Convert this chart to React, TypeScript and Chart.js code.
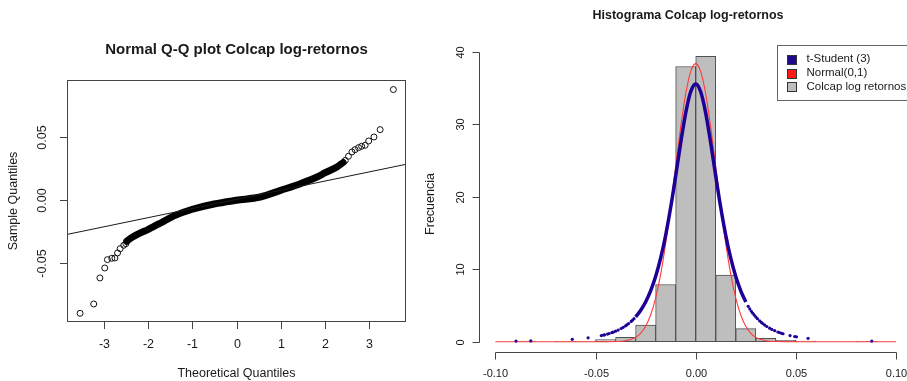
import React, { useEffect, useRef } from "react";
import { Chart, registerables } from "chart.js";

Chart.register(...registerables);

// ---------- Q-Q plot data ----------
const qqLineX = [-4, 4];
const qqLineY = [-0.0282, 0.0297];

const qqBandX = [-2.49, -2.4, -2.25, -2.0, -1.72, -1.42, -1.0, -0.51, 0, 0.54, 1.0, 1.45, 1.83, 2.0, 2.28, 2.42];
const qqBandY = [-0.0325, -0.03, -0.027, -0.023, -0.018, -0.0124, -0.0071, -0.0029, 0.0, 0.0026, 0.0079, 0.0132, 0.0185, 0.0217, 0.0265, 0.03];

const qqTailX = [-3.55, -3.24, -3.1, -2.99, -2.93, -2.83, -2.76, -2.7, -2.64, -2.56, -2.51, 2.47, 2.54, 2.62, 2.69, 2.77, 2.84, 2.92, 3.0, 3.12, 3.26, 3.56];
const qqTailY = [-0.0897, -0.0823, -0.0616, -0.0537, -0.0471, -0.046, -0.0458, -0.0418, -0.0384, -0.0357, -0.0344, 0.0317, 0.0349, 0.0384, 0.0402, 0.0418, 0.0429, 0.0437, 0.0471, 0.0503, 0.0561, 0.0879];

const qqXTicks = [-3, -2, -1, 0, 1, 2, 3];
const qqXTickLabels = ["-3", "-2", "-1", "0", "1", "2", "3"];
const qqYTicks = [-0.05, 0, 0.05];
const qqYTickLabels = ["-0.05", "0.00", "0.05"];

// ---------- Histogram data ----------
const histBinCenters = [-0.085, -0.075, -0.065, -0.055, -0.045, -0.035, -0.025, -0.015, -0.005, 0.005, 0.015, 0.025, 0.035, 0.045, 0.055, 0.065, 0.075, 0.085];
const histDensity = [0.08, 0, 0.04, 0.04, 0.28, 0.6, 2.3, 7.9, 38.0, 39.4, 9.2, 1.8, 0.45, 0.2, 0.08, 0, 0, 0.04];

const normalX = [-0.1, -0.06, -0.05, -0.045, -0.04, -0.035, -0.03, -0.0275, -0.025, -0.0225, -0.02, -0.0175, -0.015, -0.0125, -0.01, -0.0075, -0.005, -0.0025, 0, 0.0025, 0.005, 0.0075, 0.01, 0.0125, 0.015, 0.0175, 0.02, 0.0225, 0.025, 0.0275, 0.03, 0.035, 0.04, 0.045, 0.05, 0.06, 0.1];
const normalY = [0, 0, 0, 0.003, 0.02, 0.13, 0.6, 1.16, 2.13, 3.69, 6.03, 9.3, 13.55, 18.63, 24.17, 29.59, 34.2, 37.3, 38.4, 37.3, 34.2, 29.59, 24.17, 18.63, 13.55, 9.3, 6.03, 3.69, 2.13, 1.16, 0.6, 0.13, 0.02, 0.003, 0, 0, 0];

const tCoreX = [-0.03, -0.0275, -0.025, -0.0225, -0.02, -0.0175, -0.015, -0.0125, -0.01, -0.0075, -0.005, -0.0025, 0, 0.0025, 0.005, 0.0075, 0.01, 0.0125, 0.015, 0.0175, 0.02, 0.0225, 0.025];
const tCoreY = [3.42, 4.32, 5.49, 7.02, 9.0, 11.53, 14.7, 18.52, 22.88, 27.43, 31.57, 34.52, 35.6, 34.52, 31.57, 27.43, 22.88, 18.52, 14.7, 11.53, 9.0, 7.02, 5.49];

const tTailX = [-0.0897, -0.0823, -0.0616, -0.0537, -0.0471, -0.046, -0.0455, -0.044, -0.0432, -0.0418, -0.0412, -0.04, -0.0387, -0.0372, -0.0362, -0.035, -0.0344, -0.0335, -0.0322, -0.0315, -0.0308,
  0.0262, 0.027, 0.0278, 0.0285, 0.0292, 0.03, 0.0308, 0.0319, 0.0328, 0.0336, 0.0345, 0.0355, 0.0369, 0.038, 0.0394, 0.041, 0.0418, 0.0429, 0.0436, 0.0471, 0.0494, 0.0503, 0.0561, 0.0879];
const tTailY = [0.08, 0.11, 0.33, 0.54, 0.85, 0.92, 0.95, 1.06, 1.13, 1.26, 1.32, 1.45, 1.61, 1.82, 1.98, 2.19, 2.31, 2.5, 2.8, 2.98, 3.18,
  4.89, 4.53, 4.2, 3.93, 3.68, 3.42, 3.18, 2.88, 2.66, 2.48, 2.29, 2.1, 1.87, 1.7, 1.52, 1.34, 1.26, 1.155, 1.095, 0.85, 0.72, 0.68, 0.46, 0.09];

const histXTicks = [-0.1, -0.05, 0, 0.05, 0.1];
const histXTickLabels = ["-0.10", "-0.05", "0.00", "0.05", "0.10"];
const histYTicks = [0, 10, 20, 30, 40];
const histYTickLabels = ["0", "10", "20", "30", "40"];

const legendLabels = ["t-Student (3)", "Normal(0,1)", "Colcap log retornos"];
const legendColors = ["#1e0a8c", "#ff1a1a", "#bebebe"];

const FONT = '"Liberation Sans", Arial, Helvetica, sans-serif';
const BLUE = "#1e0096";
const RED = "#ff3a3a";
const TEXT = "#1a1a1a";
const AXIS = "#444444";

const pts = (xs: number[], ys: number[]) => xs.map((x, i) => ({ x, y: ys[i] }));

const qqDecor = {
  id: "qqDecor",
  afterDraw(chart: any) {
    const { ctx, chartArea, scales } = chart;
    const { left, top, right, bottom } = chartArea;
    const xs = scales.x;
    const ys = scales.y;
    ctx.save();
    ctx.strokeStyle = AXIS;
    ctx.lineWidth = 1;
    ctx.strokeRect(left + 0.5, top + 0.5, right - left - 1, bottom - top - 1);
    ctx.fillStyle = TEXT;
    ctx.font = `12.5px ${FONT}`;
    ctx.textAlign = "center";
    ctx.textBaseline = "middle";
    qqXTicks.forEach((t, i) => {
      const px = Math.round(xs.getPixelForValue(t)) + 0.5;
      ctx.beginPath();
      ctx.moveTo(px, bottom);
      ctx.lineTo(px, bottom + 7);
      ctx.stroke();
      ctx.fillText(qqXTickLabels[i], px, bottom + 23);
    });
    qqYTicks.forEach((t, i) => {
      const py = Math.round(ys.getPixelForValue(t)) + 0.5;
      ctx.beginPath();
      ctx.moveTo(left, py);
      ctx.lineTo(left - 7, py);
      ctx.stroke();
      ctx.save();
      ctx.translate(43, py);
      ctx.rotate(-Math.PI / 2);
      ctx.fillText(qqYTickLabels[i], 0, 0);
      ctx.restore();
    });
    ctx.fillText("Theoretical Quantiles", (left + right) / 2, 374);
    ctx.save();
    ctx.translate(14, (top + bottom) / 2);
    ctx.rotate(-Math.PI / 2);
    ctx.fillText("Sample Quantiles", 0, 0);
    ctx.restore();
    ctx.font = `bold 15px ${FONT}`;
    ctx.fillText("Normal Q-Q plot Colcap log-retornos", (left + right) / 2, 50);
    ctx.restore();
  },
};

const histDecor = {
  id: "histDecor",
  afterDraw(chart: any) {
    const { ctx, chartArea, scales } = chart;
    const { left, bottom } = chartArea;
    const xs = scales.x;
    const ys = scales.y;
    ctx.save();
    ctx.strokeStyle = AXIS;
    ctx.lineWidth = 1;
    ctx.fillStyle = TEXT;
    ctx.textAlign = "center";
    ctx.textBaseline = "middle";
    ctx.font = `11px ${FONT}`;
    // y axis
    const ax = Math.round(left) + 0.5;
    const y0 = Math.round(ys.getPixelForValue(histYTicks[0])) + 0.5;
    const y1 = Math.round(ys.getPixelForValue(histYTicks[histYTicks.length - 1])) + 0.5;
    ctx.beginPath();
    ctx.moveTo(ax, y0);
    ctx.lineTo(ax, y1);
    ctx.stroke();
    histYTicks.forEach((t, i) => {
      const py = Math.round(ys.getPixelForValue(t)) + 0.5;
      ctx.beginPath();
      ctx.moveTo(ax, py);
      ctx.lineTo(ax - 7, py);
      ctx.stroke();
      ctx.save();
      ctx.translate(ax - 19, py);
      ctx.rotate(-Math.PI / 2);
      ctx.fillText(histYTickLabels[i], 0, 0);
      ctx.restore();
    });
    // x axis
    const ay = Math.round(bottom) + 0.5;
    const x0 = Math.round(xs.getPixelForValue(histXTicks[0])) + 0.5;
    const x1 = Math.round(xs.getPixelForValue(histXTicks[histXTicks.length - 1])) + 0.5;
    ctx.beginPath();
    ctx.moveTo(x0, ay);
    ctx.lineTo(x1, ay);
    ctx.stroke();
    histXTicks.forEach((t, i) => {
      const px = Math.round(xs.getPixelForValue(t)) + 0.5;
      ctx.beginPath();
      ctx.moveTo(px, ay);
      ctx.lineTo(px, ay + 7);
      ctx.stroke();
      ctx.fillText(histXTickLabels[i], px, ay + 21);
    });
    // axis title
    ctx.font = `12.5px ${FONT}`;
    ctx.save();
    ctx.translate(11, 204);
    ctx.rotate(-Math.PI / 2);
    ctx.fillText("Frecuencia", 0, 0);
    ctx.restore();
    // main title
    ctx.font = `bold 12.5px ${FONT}`;
    ctx.fillText("Histograma Colcap log-retornos", 268, 16);
    // legend
    const lx = 357.5;
    const ly = 45.5;
    ctx.fillStyle = "#ffffff";
    ctx.fillRect(lx, ly, 200, 55);
    ctx.strokeStyle = "#666666";
    ctx.strokeRect(lx, ly, 200, 55);
    ctx.font = `11.5px ${FONT}`;
    ctx.textAlign = "left";
    legendLabels.forEach((lab, i) => {
      const cy = 59.3 + i * 13.7;
      ctx.fillStyle = legendColors[i];
      ctx.fillRect(367.5, Math.round(cy - 4.5) + 0.5, 9, 9);
      ctx.strokeStyle = "#333333";
      ctx.strokeRect(367.5, Math.round(cy - 4.5) + 0.5, 9, 9);
      ctx.fillStyle = TEXT;
      ctx.fillText(lab, 386.5, cy);
    });
    ctx.restore();
  },
};

export default function App() {
  const leftRef = useRef<HTMLCanvasElement | null>(null);
  const rightRef = useRef<HTMLCanvasElement | null>(null);

  useEffect(() => {
    const lc = leftRef.current;
    const rc = rightRef.current;
    if (!lc || !rc) return;

    const left = new Chart(lc, {
      type: "scatter",
      data: {
        datasets: [
          {
            data: pts(qqLineX, qqLineY),
            showLine: true,
            borderColor: "#1a1a1a",
            borderWidth: 1,
            pointRadius: 0,
            clip: 0,
          } as any,
          {
            data: pts(qqBandX, qqBandY),
            showLine: true,
            borderColor: "#000000",
            borderWidth: 7,
            pointRadius: 0,
            cubicInterpolationMode: "monotone",
            borderCapStyle: "round",
            borderJoinStyle: "round",
          } as any,
          {
            data: pts(qqTailX, qqTailY),
            showLine: false,
            pointRadius: 3,
            pointBorderWidth: 1,
            pointBorderColor: "#111111",
            pointBackgroundColor: "rgba(0,0,0,0)",
          } as any,
        ],
      },
      options: {
        animation: false,
        responsive: false,
        events: [],
        layout: { autoPadding: false, padding: { left: 67, top: 80, right: 14, bottom: 59 } },
        scales: {
          x: { type: "linear", display: false, min: -3.847, max: 3.847 },
          y: { type: "linear", display: false, min: -0.0966, max: 0.0955 },
        },
        plugins: { legend: { display: false }, tooltip: { enabled: false } },
      } as any,
      plugins: [qqDecor],
    });

    const right = new Chart(rc, {
      type: "bar",
      data: {
        datasets: [
          {
            type: "bar",
            data: pts(histBinCenters, histDensity),
            backgroundColor: "#bebebe",
            borderColor: "#505050",
            borderWidth: 1,
            borderSkipped: false,
            barPercentage: 1,
            categoryPercentage: 1,
            grouped: false,
            order: 3,
          } as any,
          {
            type: "line",
            data: pts(normalX, normalY),
            borderColor: RED,
            borderWidth: 1.1,
            pointRadius: 0,
            cubicInterpolationMode: "monotone",
            order: 2,
          } as any,
          {
            type: "line",
            data: pts(tCoreX, tCoreY),
            borderColor: BLUE,
            borderWidth: 3.5,
            pointRadius: 0,
            cubicInterpolationMode: "monotone",
            order: 1,
          } as any,
          {
            type: "scatter",
            data: pts(tTailX, tTailY),
            showLine: false,
            pointRadius: 1.6,
            pointBorderWidth: 0,
            pointBackgroundColor: BLUE,
            order: 1,
          } as any,
        ],
      },
      options: {
        animation: false,
        responsive: false,
        events: [],
        layout: { autoPadding: false, padding: { left: 59, top: 30, right: 0, bottom: 29 } },
        scales: {
          x: { type: "linear", display: false, offset: false, min: -0.10816, max: 0.10547 },
          y: { type: "linear", display: false, min: -1.422, max: 43.04 },
        },
        plugins: { legend: { display: false }, tooltip: { enabled: false } },
      } as any,
      plugins: [histDecor],
    });

    return () => {
      left.destroy();
      right.destroy();
    };
  }, []);

  return (
    <div style={{ position: "fixed", left: 0, top: 0, width: 907, height: 381, background: "#ffffff", overflow: "hidden" }}>
      <canvas ref={leftRef} width={420} height={381} style={{ position: "absolute", left: 0, top: 0, display: "block" }} />
      <canvas ref={rightRef} width={487} height={381} style={{ position: "absolute", left: 420, top: 0, display: "block" }} />
    </div>
  );
}
